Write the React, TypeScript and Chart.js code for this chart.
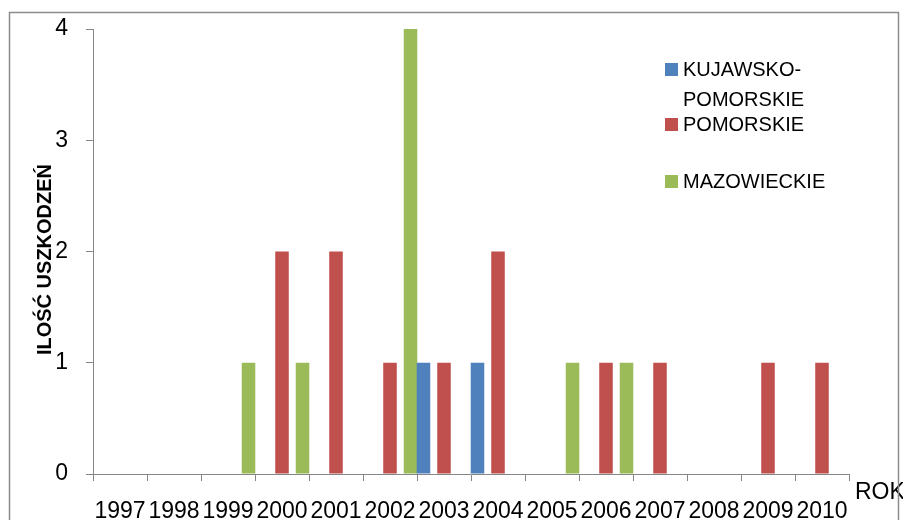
import React, { useEffect, useRef } from "react";
import { Chart, registerables } from "chart.js";

Chart.register(...registerables);

const years = ["1997", "1998", "1999", "2000", "2001", "2002", "2003", "2004", "2005", "2006", "2007", "2008", "2009", "2010"];
const kujawskoPomorskie = [0, 0, 0, 0, 0, 0, 1, 1, 0, 0, 0, 0, 0, 0];
const pomorskie = [0, 0, 0, 2, 2, 1, 1, 2, 0, 1, 1, 0, 1, 1];
const mazowieckie = [0, 0, 1, 1, 0, 4, 0, 0, 1, 1, 0, 0, 0, 0];
const seriesNames = ["KUJAWSKO-POMORSKIE", "POMORSKIE", "MAZOWIECKIE"];
const legendLines = [["KUJAWSKO-", "POMORSKIE"], ["POMORSKIE"], ["MAZOWIECKIE"]];
const seriesColors = ["#4F81BD", "#C0504D", "#9BBB59"];
const yMin = 0;
const yMax = 4;
const yStep = 1;
const yTitle = "ILOŚĆ USZKODZEŃ";
const xTitle = "ROK";

const FONT = "'Liberation Sans', Arial, sans-serif";
const AXIS_COLOR = "#868686";

const decorPlugin = {
  id: "decor",
  afterDraw(chart: any) {
    const ctx = chart.ctx;
    const area = chart.chartArea;
    ctx.save();
    // Y title
    ctx.fillStyle = "#000";
    ctx.font = `bold 20px ${FONT}`;
    ctx.textAlign = "center";
    ctx.textBaseline = "middle";
    ctx.translate(area.left - 48, (area.top + area.bottom) / 2 + 8);
    ctx.rotate(-Math.PI / 2);
    ctx.fillText(yTitle, 0, 0);
    ctx.restore();

    // X title
    ctx.save();
    ctx.fillStyle = "#000";
    ctx.font = `23px ${FONT}`;
    ctx.textAlign = "left";
    ctx.textBaseline = "middle";
    ctx.fillText(xTitle, area.right + 6, area.bottom + 19);
    ctx.restore();

    // Legend
    ctx.save();
    const lx = area.right - 184;
    const rowY = [area.top + 41, area.top + 96, area.top + 153];
    ctx.font = `20px ${FONT}`;
    ctx.textAlign = "left";
    ctx.textBaseline = "middle";
    chart.data.datasets.forEach((ds: any, i: number) => {
      const y = rowY[i];
      ctx.fillStyle = ds.backgroundColor;
      ctx.fillRect(lx, y - 7, 13, 13);
      ctx.fillStyle = "#000";
      legendLines[i].forEach((line, j) => {
        ctx.fillText(line, lx + 18, y + j * 30);
      });
    });
    ctx.restore();

    // outer border
    ctx.save();
    ctx.strokeStyle = "#8c8c8c";
    ctx.lineWidth = 1.5;
    ctx.strokeRect(9.5, 12.5, 889, 540);
    ctx.restore();
  },
};

export default function App() {
  const ref = useRef<HTMLCanvasElement | null>(null);

  useEffect(() => {
    if (!ref.current) return;
    const data = [kujawskoPomorskie, pomorskie, mazowieckie];
    const chart = new Chart(ref.current, {
      type: "bar",
      data: {
        labels: years,
        datasets: data.map((values, i) => ({
          label: seriesNames[i],
          data: values,
          backgroundColor: seriesColors[i],
          borderWidth: 0,
          categoryPercentage: 1.14,
          barPercentage: 0.66,
        })),
      },
      options: {
        animation: false,
        responsive: false,
        devicePixelRatio: 1,
        layout: { padding: { top: 29, right: 54, left: 0, bottom: 0 } },
        plugins: {
          legend: { display: false },
          tooltip: { enabled: false },
        },
        scales: {
          x: {
            offset: true,
            grid: {
              offset: true,
              drawOnChartArea: false,
              drawTicks: true,
              tickLength: 7,
              color: AXIS_COLOR,
              lineWidth: 1,
            },
            border: { display: true, color: AXIS_COLOR, width: 1 },
            ticks: {
              font: { family: FONT, size: 23 },
              color: "#000",
              autoSkip: false,
              maxRotation: 0,
              minRotation: 0,
              padding: 17,
            },
            afterFit: (s: any) => {
              s.height = 46;
              s.paddingLeft = 0;
              s.paddingRight = 0;
            },
          },
          y: {
            min: yMin,
            max: yMax,
            grid: {
              drawOnChartArea: false,
              drawTicks: true,
              tickLength: 7,
              color: AXIS_COLOR,
              lineWidth: 1,
            },
            border: { display: true, color: AXIS_COLOR, width: 1 },
            ticks: {
              stepSize: yStep,
              font: { family: FONT, size: 23 },
              color: "#000",
              padding: 18,
            },
            afterFit: (s: any) => {
              s.width = 93;
              s.paddingTop = 0;
              s.paddingBottom = 0;
            },
          },
        },
      },
      plugins: [decorPlugin],
    });
    return () => chart.destroy();
  }, []);

  return (
    <div style={{ position: "fixed", left: 0, top: 0, width: 903, height: 520, background: "#fff" }}>
      <canvas ref={ref} width={903} height={520} style={{ display: "block" }} />
    </div>
  );
}
